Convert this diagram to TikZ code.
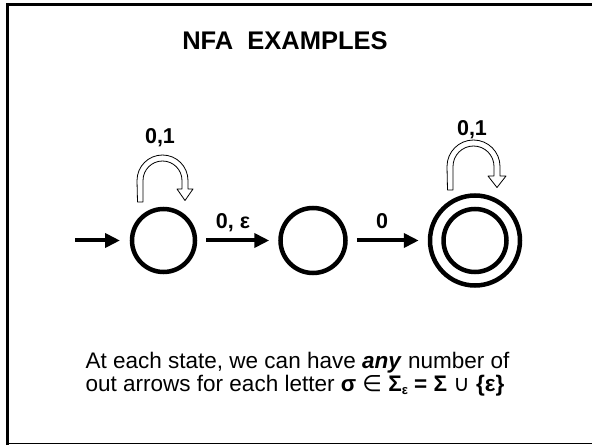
\documentclass[tikz,border=0pt]{standalone}
\usepackage{fontspec}
\setmainfont{Liberation Sans}
\newfontfamily\symfont{DejaVu Sans}
\usetikzlibrary{arrows.meta}
\begin{document}
\begin{tikzpicture}[x=1pt,y=1pt,
  state/.style={circle,draw,line width=4.5pt,inner sep=0pt},
  trans/.style={line width=4pt,-{Triangle[length=15pt,width=14pt]},shorten <=9pt,shorten >=9pt},
  lbl/.style={font=\fontsize{21.5}{21.5}\selectfont\bfseries,anchor=base,inner sep=0pt},
  loopband/.style={draw,line width=0.8pt,fill=white,line join=round},
  body/.style={font=\fontsize{22.5}{22.5}\selectfont,anchor=base,inner sep=0pt}]
\useasboundingbox (0,0) rectangle (592,445);
\clip (0,0) rectangle (592,445);
% frame
\draw[line width=1.3pt] (7.5,1.5) -- (600,1.5);
\draw[line width=3pt] (7.5,0) -- (7.5,440) -- (600,440);
% title
\node[font=\fontsize{25.5}{25.5}\selectfont\bfseries,anchor=base,inner sep=0pt] (title) at (285,395) {NFA\ \ EXAMPLES};
% states
\node[state,minimum size=63pt] (s1) at (163.5,204.5) {};
\node[state,minimum size=65pt] (s2) at (313,204.5) {};
\node[state,minimum size=90pt] (s3) at (475,204.5) {};
\draw[line width=4.5pt] (s3.center) circle[radius=31.5pt];
% transitions
\coordinate (start) at (75,204.5);
\draw[trans,shorten <=0pt,shorten >=9.75pt] (start) -- (s1);
\draw[trans] (s1) -- (s2);
\draw[trans] (s2) -- (s3);
% self loops (hollow block arrows)
\draw[loopband] (137.5,243) -- (137,264.5) arc[start angle=180,end angle=0,radius=25.5]
  -- (188,256) -- (193,256) -- (185,244.5) -- (177,256) -- (182,256) -- (182,264.5)
  arc[start angle=0,end angle=180,radius=19.5] -- (143,243) -- cycle;
\draw[loopband] (447.5,255) -- (447,278.5) arc[start angle=180,end angle=0,radius=26.5]
  -- (500,269) -- (506,269) -- (497,257.5) -- (488,269) -- (494,269) -- (494,278.5)
  arc[start angle=0,end angle=180,radius=20.5] -- (453,255) -- cycle;
% labels
\node[lbl] (l1) at (160,301.7) {0,1};
\node[lbl] (l3) at (472,309.5) {0,1};
\node[lbl] (le) at (233,216) {0, ε};
\node[lbl] (l0) at (382,216.7) {0};
% text
\node[body] (t1) at (297.5,77) {At each state, we can have \textbf{\textit{any}} number of};
\node[body] (t2) at (295,54) {out arrows for each letter \textbf{σ} {\symfont ∈} \textbf{Σ\raisebox{-3.5pt}{\fontsize{13}{13}\selectfont ε} = Σ} {\symfont ∪} \textbf{\{ε\}}};
\end{tikzpicture}
\end{document}
